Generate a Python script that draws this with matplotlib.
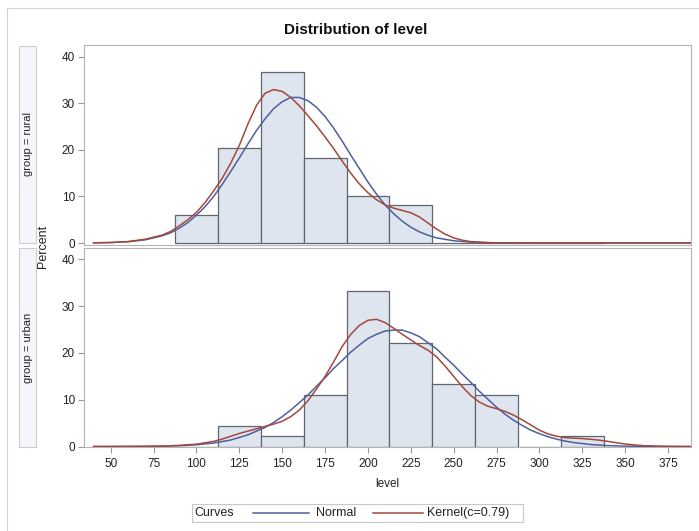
import numpy as np
import matplotlib
matplotlib.use("Agg")
import matplotlib.pyplot as plt
from matplotlib.patches import Rectangle
from matplotlib.lines import Line2D

plt.rcParams['font.family'] = ['Liberation Sans', 'DejaVu Sans']

# ---------------------------------------------------------------- data
bin_mids = [100, 125, 150, 175, 200, 225, 250, 275, 300, 325]
rural_pct = [6.12, 20.41, 36.73, 18.37, 10.20, 8.16, 0, 0, 0, 0]
urban_pct = [0, 4.44, 2.22, 11.11, 33.33, 22.22, 13.33, 11.11, 0, 2.22]

# curves (percent)
rural_norm_x = [40, 50, 60, 70, 80, 85, 90, 95, 100, 105, 110, 115, 120, 125, 130, 135, 140,
                145, 150, 155, 160, 165, 170, 175, 180, 185, 190, 195, 200, 205, 210, 215,
                220, 225, 230, 235, 240, 250, 260, 270, 280, 300, 388]
rural_norm_y = [0.03, 0.1, 0.27, 0.68, 1.55, 2.2, 3.2, 4.4, 6.0, 7.8, 10.0, 12.6, 15.4, 18.3,
                21.3, 24.2, 26.7, 28.9, 30.4, 31.3, 31.3, 30.6, 29.2, 27.2, 24.7, 21.9, 18.9,
                16.0, 13.1, 10.5, 8.2, 6.3, 4.7, 3.4, 2.4, 1.67, 1.1, 0.48, 0.18, 0.06, 0.02,
                0, 0]

rural_kern_x = [40, 50, 60, 70, 80, 85, 90, 95, 100, 105, 110, 115, 120, 125, 130, 135, 140,
                145, 150, 155, 160, 165, 170, 175, 180, 185, 190, 195, 200, 205, 210, 215,
                220, 225, 230, 235, 240, 245, 250, 255, 260, 270, 280, 290, 388]
rural_kern_y = [0.05, 0.1, 0.3, 0.8, 1.7, 2.5, 3.7, 5.0, 6.6, 8.7, 11.2, 13.9, 17.2, 21.0,
                25.6, 29.6, 32.2, 33.0, 32.6, 31.3, 29.5, 27.4, 25.2, 22.8, 20.3, 17.6, 15.0,
                12.7, 10.8, 9.3, 8.2, 7.5, 7.0, 6.5, 5.6, 4.3, 3.0, 1.9, 1.1, 0.6, 0.3, 0.08,
                0.02, 0, 0]

urban_norm_x = [40, 60, 70, 80, 90, 100, 110, 120, 130, 140, 145, 150, 155, 160, 165, 170,
                175, 180, 185, 190, 195, 200, 205, 210, 215, 220, 225, 230, 235, 240, 245,
                250, 255, 260, 265, 270, 275, 280, 285, 290, 295, 300, 305, 310, 315, 320,
                330, 340, 350, 360, 370, 380, 388]
urban_norm_y = [0, 0.01, 0.03, 0.08, 0.17, 0.37, 0.75, 1.4, 2.5, 4.1, 5.15, 6.4, 7.8, 9.4,
                11.0, 12.9, 14.7, 16.7, 18.4, 20.2, 21.7, 23.1, 24.0, 24.7, 24.9, 24.9, 24.3,
                23.5, 22.2, 20.9, 19.1, 17.4, 15.5, 13.7, 11.8, 10.1, 8.4, 6.9, 5.6, 4.5, 3.5,
                2.75, 2.1, 1.58, 1.16, 0.85, 0.43, 0.2, 0.09, 0.04, 0.015, 0.005, 0]

urban_kern_x = [40, 60, 70, 80, 90, 100, 105, 110, 115, 120, 125, 130, 135, 140, 145, 150,
                155, 160, 165, 170, 175, 180, 185, 190, 195, 200, 205, 210, 215, 220, 225,
                230, 235, 240, 245, 250, 255, 260, 265, 270, 275, 280, 285, 290, 295, 300,
                305, 310, 315, 320, 325, 330, 335, 340, 345, 350, 355, 360, 370, 380, 388]
urban_kern_y = [0, 0.02, 0.05, 0.1, 0.25, 0.5, 0.8, 1.1, 1.6, 2.2, 2.8, 3.3, 3.8, 4.3, 4.8,
                5.4, 6.4, 7.8, 9.8, 12.3, 15.0, 18.1, 21.4, 24.0, 25.9, 27.0, 27.2, 26.5,
                25.3, 24.0, 22.8, 21.6, 20.6, 19.2, 17.2, 15.0, 12.8, 10.9, 9.5, 8.6, 8.1,
                7.5, 6.7, 5.7, 4.6, 3.5, 2.7, 2.2, 1.9, 1.8, 1.7, 1.55, 1.35, 1.1, 0.8, 0.55,
                0.35, 0.2, 0.06, 0.01, 0]

x_ticks = [50, 75, 100, 125, 150, 175, 200, 225, 250, 275, 300, 325, 350, 375]
y_ticks = [0, 10, 20, 30, 40]

# ---------------------------------------------------------------- style
W, H = 699, 531
bar_fill = '#dfe5ef'
bar_edge = '#5f6670'
normal_col = '#4f5f9c'
kernel_col = '#a4473c'
frame_col = '#b4b4b4'
text_col = '#222222'


def box(left, top, right, bottom):
    return [left / W, 1 - bottom / H, (right - left) / W, (bottom - top) / H]


fig = plt.figure(figsize=(W / 100, H / 100), dpi=100)

# outer frame
fig.add_artist(Line2D([7 / W, 1], [1 - 8 / H, 1 - 8 / H], color='#d4d4d4', lw=0.8))
fig.add_artist(Line2D([7 / W, 7 / W], [1 - 8 / H, 0], color='#d4d4d4', lw=0.8))

ax_top = fig.add_axes(box(84, 45, 691, 245))
ax_bot = fig.add_axes(box(84, 248, 691, 447))

panels = [
    (ax_top, rural_pct, rural_norm_x, rural_norm_y, rural_kern_x, rural_kern_y, (-0.43, 42.58)),
    (ax_bot, urban_pct, urban_norm_x, urban_norm_y, urban_kern_x, urban_kern_y, (-0.1, 42.45)),
]
for ax, pct, nx, ny, kx, ky, ylim in panels:
    ax.bar(bin_mids, pct, width=25, color=bar_fill, edgecolor=bar_edge, linewidth=0.9, zorder=2)
    ax.plot(nx, ny, color=normal_col, lw=1.1, zorder=3)
    ax.plot(kx, ky, color=kernel_col, lw=1.1, zorder=4)
    ax.set_xlim(34.4, 388.4)
    ax.set_ylim(*ylim)
    ax.set_yticks(y_ticks)
    ax.set_xticks(x_ticks)
    for s in ax.spines.values():
        s.set_color(frame_col)
        s.set_linewidth(0.8)
    ax.tick_params(axis='both', direction='out', length=4, width=0.8, color='#9a9a9a',
                   labelsize=8.5, labelcolor=text_col, pad=2.5)

ax_top.tick_params(axis='x', bottom=False, labelbottom=False)
ax_bot.tick_params(axis='x', pad=4)
ax_bot.set_xlabel('level', fontsize=8.5, color=text_col, labelpad=6)

# group strips
for (top, bottom, label) in [(45.7, 243, 'group = rural'), (248, 447, 'group = urban')]:
    fig.add_artist(Rectangle((19.3 / W, 1 - bottom / H), (36 - 19.3) / W, (bottom - top) / H,
                             transform=fig.transFigure, facecolor='#f5f5fb',
                             edgecolor='#cdcdd6', lw=0.8))
    fig.text(27.8 / W, 1 - (top + bottom) / 2 / H, label, rotation=90, ha='center',
             va='center', fontsize=8, color=text_col)

fig.text(43 / W, 1 - 246 / H, 'Percent', rotation=90, ha='center', va='center',
         fontsize=9, color=text_col)

fig.text(356 / W, 1 - 30 / H, 'Distribution of level', ha='center', va='center',
         fontsize=11, fontweight='bold', color='#111111')

# legend
fig.add_artist(Rectangle((191.7 / W, 1 - 521.7 / H), (523 - 191.7) / W, (521.7 - 504.3) / H,
                         transform=fig.transFigure, facecolor='white', edgecolor='#c8c8c8',
                         lw=0.8))
ly = 1 - 513 / H
fig.text(194.5 / W, ly, 'Curves', ha='left', va='center', fontsize=9, color=text_col)
fig.add_artist(Line2D([252.7 / W, 309 / W], [ly, ly], color=normal_col, lw=1.1))
fig.text(316 / W, ly, 'Normal', ha='left', va='center', fontsize=9, color=text_col)
fig.add_artist(Line2D([372.7 / W, 423 / W], [ly, ly], color=kernel_col, lw=1.1))
fig.text(427 / W, ly, 'Kernel(c=0.79)', ha='left', va='center', fontsize=9, color=text_col)

fig.savefig('out.png', dpi=100)
